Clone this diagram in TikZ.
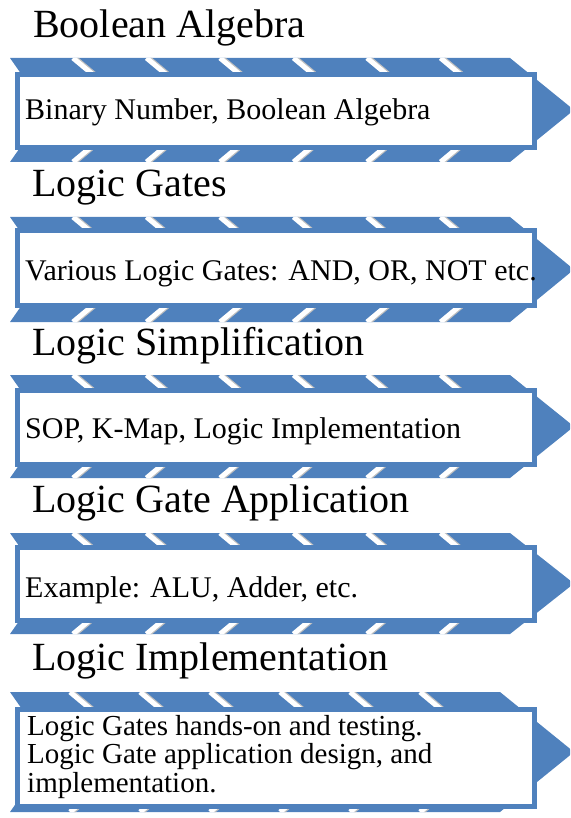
\documentclass[tikz,border=0pt]{standalone}
\usepackage{fontspec}
\setmainfont{Liberation Serif}
\definecolor{accent}{HTML}{4F81BD}
\tikzset{
  gapline/.style={white, line width=5pt},
  gapshadow/.style={black!25, line width=3pt},
  panel/.style={draw=accent, line width=5pt, fill=white, rectangle, inner sep=0pt},
  heading/.style={inner sep=0pt, anchor=base west, font=\fontsize{40}{48}\selectfont},
  desc/.style={inner sep=0pt, anchor=base west, font=\fontsize{30}{36}\selectfont},
}
% #1 top, #2 bottom, #3 right corner x, #4 tip x, #5 first gap x, #6 gap step
\newcommand{\chevband}[6]{%
  \pgfmathsetmacro\mymid{(#1+#2)/2}%
  \pgfmathsetmacro\myhalf{(#2-#1)/2}%
  \begin{scope}
    \clip (10,#1) -- (#3,#1) -- (#4,\mymid) -- (#3,#2) -- (10,#2) -- ({10+0.7*\myhalf},\mymid) -- cycle;
    \fill[accent] (0,#1-5) rectangle (#4+5,#2+5);
    \foreach \k in {0,...,5} {
      \pgfmathsetmacro\xs{#5+\k*#6}
      \draw[gapshadow] (\xs+3.5,#1) -- ++({1.2*\myhalf},\myhalf) -- ++({-1.2*\myhalf},\myhalf);
      \draw[gapline] (\xs,#1) -- ++({1.2*\myhalf},\myhalf) -- ++({-1.2*\myhalf},\myhalf);
    }
  \end{scope}}
\begin{document}
\begin{tikzpicture}[x=1pt,y=-1pt]
  \useasboundingbox (0,0) rectangle (570,818);
  \clip (0,0) rectangle (570,818);

  % row 1
  \chevband{58}{162}{510}{574}{73}{73.5}
  \node[panel, minimum width=517pt, minimum height=73pt] (b1) at (276,111) {};
  \node[heading] (t1) at (33,38) {Boolean Algebra};
  \node[desc] (d1) at (25,120) {Binary Number, Boolean Algebra};

  % row 2
  \chevband{217}{322}{510}{574}{73}{73.5}
  \node[panel, minimum width=517pt, minimum height=75pt] (b2) at (276,268) {};
  \node[heading] (t2) at (32,197) {Logic Gates};
  \node[desc] (d2) at (25,280) {Various Logic Gates: AND, OR, NOT etc.};

  % row 3
  \chevband{375}{478}{510}{574}{73}{73.5}
  \node[panel, minimum width=517pt, minimum height=74pt] (b3) at (276,427.5) {};
  \node[heading] (t3) at (32,355) {Logic Simplification};
  \node[desc] (d3) at (25,438) {SOP, K-Map, Logic Implementation};

  % row 4
  \chevband{533}{634}{510}{574}{73}{73.5}
  \node[panel, minimum width=517pt, minimum height=73pt] (b4) at (276,584) {};
  \node[heading] (t4) at (32,512) {Logic Gate Application};
  \node[desc] (d4) at (25,597) {Example: ALU, Adder, etc.};

  % row 5
  \chevband{692}{812}{500}{574}{70}{70}
  \node[panel, minimum width=517pt, minimum height=97pt] (b5) at (276,758) {};
  \node[heading] (t5) at (32,670) {Logic Implementation};
  \node[inner sep=0pt, anchor=north west, align=left, font=\fontsize{29}{28.5}\selectfont] (d5) at (27,715)
    {Logic Gates hands-on and testing.\\Logic Gate application design, and\\implementation.};
\end{tikzpicture}
\end{document}
